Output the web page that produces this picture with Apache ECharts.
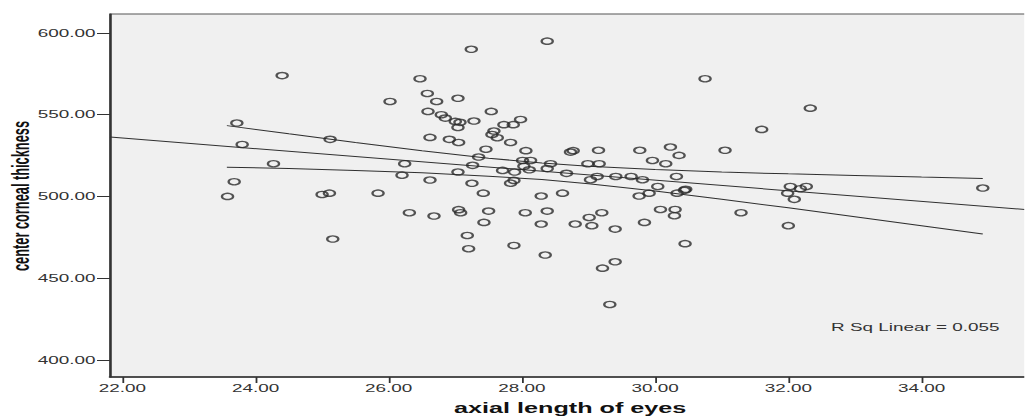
<!DOCTYPE html>
<html><head><meta charset="utf-8">
<script src="https://cdn.jsdelivr.net/npm/echarts@6/dist/echarts.min.js"></script>
<style>
html,body{margin:0;padding:0;background:#fff;overflow:hidden;width:1025px;height:417px;}
#c{width:569.444px;height:417px;transform:scaleX(1.8);transform-origin:0 0;}
</style></head><body><div id="c"></div>
<script>
// axial length of eyes (mm)
const axialLength = [
23.58,23.68,23.72,23.80,24.27,24.40,25.00,25.11,25.12,25.16,25.84,26.02,26.20,26.24,26.31,26.47,26.58,26.59,26.62,26.62,
26.68,26.72,26.79,26.85,26.91,27.00,27.04,27.04,27.04,27.05,27.05,27.07,27.08,27.18,27.20,27.24,27.25,27.26,27.28,27.35,
27.42,27.43,27.46,27.50,27.54,27.55,27.58,27.63,27.71,27.73,27.83,27.83,27.87,27.88,27.88,27.89,27.98,28.01,28.03,28.05,
28.06,28.11,28.13,28.29,28.29,28.35,28.38,28.38,28.38,28.43,28.61,28.67,28.73,28.77,28.80,28.99,29.01,29.03,29.05,29.13,
29.15,29.16,29.20,29.21,29.32,29.40,29.40,29.41,29.64,29.76,29.77,29.81,29.84,29.91,29.96,30.04,30.08,30.16,30.23,30.29,
30.30,30.32,30.33,30.36,30.44,30.45,30.46,30.75,31.05,31.29,31.60,31.99,32.00,32.03,32.09,32.18,32.27,32.33,34.92
];
// center corneal thickness
const cornealThickness = [
500.0,509.0,544.9,531.8,520.0,573.9,501.2,502.0,534.9,473.9,502.0,558.1,513.0,520.0,490.0,572.0,563.0,552.0,536.1,510.0,
488.0,558.1,550.0,547.9,534.9,545.9,560.0,542.2,514.9,533.0,491.9,545.3,490.0,476.1,468.0,590.0,508.0,519.0,546.1,524.1,
502.0,484.1,528.9,491.0,552.0,537.9,540.0,535.9,515.9,543.9,533.0,508.1,543.9,509.8,470.0,514.9,547.1,522.0,518.4,490.0,
528.0,516.3,522.0,500.2,483.1,464.1,595.0,517.0,491.0,520.0,502.0,514.1,527.1,528.0,483.1,520.0,487.1,510.2,482.1,512.2,
528.2,520.0,490.0,456.1,433.9,480.0,460.0,512.2,512.2,500.2,528.2,510.2,484.1,502.0,522.0,506.1,492.0,520.0,530.2,488.2,
492.0,512.2,502.0,525.1,503.7,471.1,504.3,572.0,528.2,490.0,541.0,502.0,482.1,506.1,498.2,504.7,506.1,554.0,505.1
];
const xTicks = [22, 24, 26, 28, 30, 32, 34];
const yTicks = [400, 450, 500, 550, 600];
const xRange = [21.815, 35.635];
const yRange = [389.5, 611.6];
const xTitle = 'axial length of eyes';
const yTitle = 'center corneal thickness';
const rsqText = 'R Sq Linear = 0.055';
// fit line end values (read at axis extent)
const fitY = [536.3, 491.7];
// 95% mean confidence band
const ciX     = [23.57, 24.5, 25.5, 26.5, 27.5, 28.3, 29.0, 30.0, 31.0, 32.0, 33.0, 34.0, 34.92];
const ciUpper = [543.3, 538.3, 533.0, 527.9, 523.4, 520.4, 518.4, 516.5, 514.9, 513.8, 512.8, 511.8, 511.0];
const ciLower = [517.9, 517.0, 515.8, 514.4, 512.4, 510.3, 507.7, 503.3, 498.3, 493.0, 487.6, 482.1, 477.0];

const pts = axialLength.map((x, i) => [x, cornealThickness[i]]);
const fitData = [[xRange[0], fitY[0]], [xRange[1], fitY[1]]];
const upData = ciX.map((x, i) => [x, ciUpper[i]]);
const loData = ciX.map((x, i) => [x, ciLower[i]]);

const chart = echarts.init(document.getElementById('c'), null, {renderer: 'svg', width: 569.444, height: 417});
const FONT = 'Liberation Sans, Arial, sans-serif';
const lbl = {color: '#333', fontSize: 10.5, fontFamily: FONT};
const lineStyle = {color: '#303030', width: 1};
chart.setOption({
  animation: false,
  backgroundColor: '#fff',
  grid: {left: 61.1, top: 14, right: -3, bottom: 40, show: true, backgroundColor: '#f0f0f0', borderColor: '#555', borderWidth: 1,
         containLabel: false, outerBoundsMode: 'none'},
  xAxis: {
    type: 'value', min: xRange[0], max: xRange[1],
    name: xTitle, nameLocation: 'middle', nameGap: 24,
    nameTextStyle: {color: '#111', fontSize: 14, fontWeight: 'bold', fontFamily: FONT},
    axisLine: {show: true, lineStyle: {color: '#333', width: 1.5}},
    axisTick: {show: true, length: 6, inside: false, lineStyle: {color: '#333', width: 1}, customValues: xTicks},
    axisLabel: Object.assign({margin: 6, customValues: xTicks, formatter: v => v.toFixed(2)}, lbl),
    splitLine: {show: false}
  },
  yAxis: {
    type: 'value', min: yRange[0], max: yRange[1],
    axisLine: {show: true, lineStyle: {color: '#333', width: 1.2}},
    axisTick: {show: true, length: 7.2, inside: false, lineStyle: {color: '#333', width: 1}, customValues: yTicks},
    axisLabel: Object.assign({margin: 8, customValues: yTicks, formatter: v => v.toFixed(2)}, lbl),
    splitLine: {show: false}
  },
  graphic: [{
    type: 'text', x: 11.4, y: 196, rotation: Math.PI / 2, silent: true,
    style: {text: yTitle, fill: '#111', fontSize: 12.8, fontWeight: 'bold', fontFamily: FONT, textAlign: 'center', textVerticalAlign: 'middle'}
  }, {
    type: 'text', x: 461.7, y: 327, silent: true,
    style: {text: rsqText, fill: '#333', fontSize: 10.5, fontFamily: FONT, textVerticalAlign: 'middle'}
  }],
  series: [
    {type: 'line', data: fitData, symbol: 'none', lineStyle: lineStyle, silent: true, z: 3},
    {type: 'line', data: upData, symbol: 'none', lineStyle: lineStyle, silent: true, z: 3},
    {type: 'line', data: loData, symbol: 'none', lineStyle: lineStyle, silent: true, z: 3},
    {type: 'scatter', data: pts, symbol: 'circle', symbolSize: 6.2, silent: true, z: 4,
     itemStyle: {color: 'rgba(0,0,0,0)', borderColor: '#2a2a2a', borderWidth: 1.3}}
  ]
});
</script></body></html>
